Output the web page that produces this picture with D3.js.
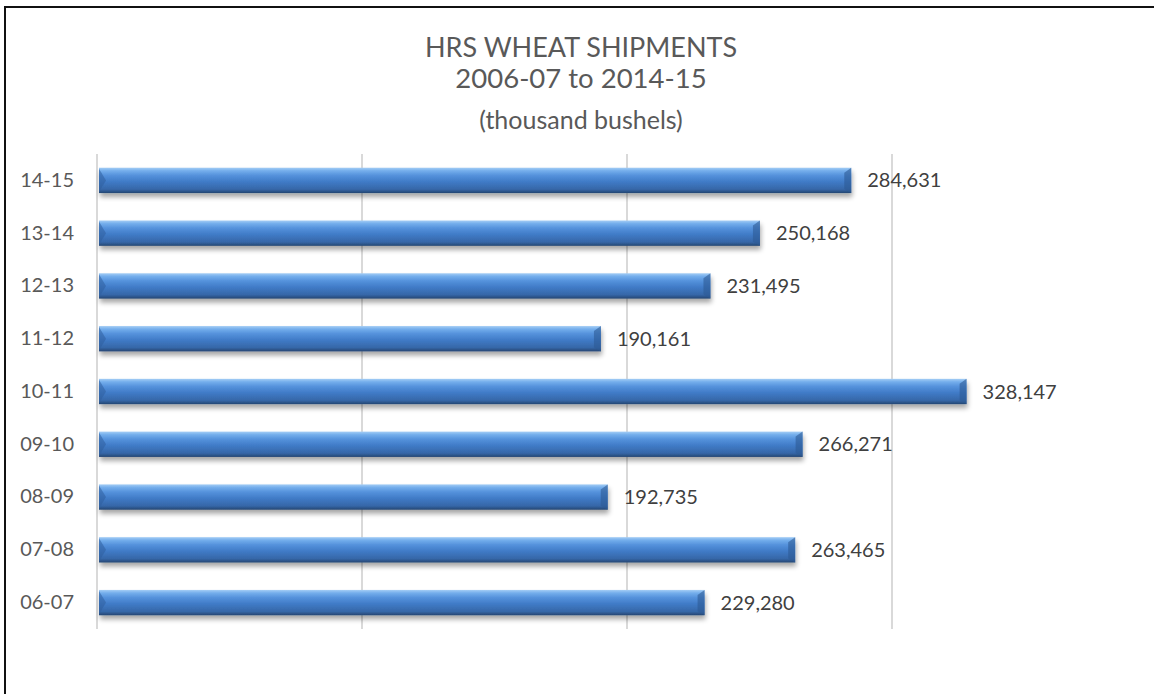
<!DOCTYPE html>
<html>
<head>
<meta charset="utf-8">
<script src="https://cdn.jsdelivr.net/npm/d3@7"></script>
<style>
	body { margin: 0; background: #fff; }
	svg { display: block; }
	text { font-family: Lato, "Open Sans", sans-serif; }
</style>
</head>
<body>
<script>
var seasons = ["14-15", "13-14", "12-13", "11-12", "10-11", "09-10", "08-09", "07-08", "06-07"];
var shipments = [284631, 250168, 231495, 190161, 328147, 266271, 192735, 263465, 229280];
var tickValues = [0, 100000, 200000, 300000];
var titleLines = ["HRS WHEAT SHIPMENTS", "2006-07 to 2014-15", "(thousand bushels)"];

var width = 1154;
var height = 694;

var data = seasons.map(function(s, i) { return {season: s, value: shipments[i]}; });

var svg = d3.select("body").append("svg")
	.attr("width", width)
	.attr("height", height);

var defs = svg.append("defs");

var grad = defs.append("linearGradient")
	.attr("id", "barGrad")
	.attr("x1", 0).attr("y1", 0).attr("x2", 0).attr("y2", 1);
[[0, "#a4cdf5"], [0.12, "#74aeec"], [0.3, "#5592dc"], [0.55, "#407bc7"], [0.85, "#3667a8"], [1, "#254672"]]
	.forEach(function(s) { grad.append("stop").attr("offset", s[0]).attr("stop-color", s[1]); });

var shadow = defs.append("filter").attr("id", "shadow")
	.attr("x", "-5%").attr("y", "-50%").attr("width", "110%").attr("height", "200%");
shadow.append("feGaussianBlur").attr("in", "SourceAlpha").attr("stdDeviation", 2.5).attr("result", "b");
shadow.append("feOffset").attr("in", "b").attr("dx", 1).attr("dy", 4).attr("result", "o");
shadow.append("feComponentTransfer").attr("in", "o").attr("result", "s")
	.append("feFuncA").attr("type", "linear").attr("slope", 0.35);
var merge = shadow.append("feMerge");
merge.append("feMergeNode").attr("in", "s");
merge.append("feMergeNode").attr("in", "SourceGraphic");

// frame (top and left edges visible)
svg.append("line").attr("x1", 5).attr("y1", 7).attr("x2", width).attr("y2", 7)
	.attr("stroke", "#111").attr("stroke-width", 2);
svg.append("line").attr("x1", 5).attr("y1", 6).attr("x2", 5).attr("y2", height)
	.attr("stroke", "#111").attr("stroke-width", 2);

// title
var title = svg.append("g").attr("fill", "#595959").attr("text-anchor", "middle");
title.append("text").attr("x", 581).attr("y", 57).attr("font-size", 27).text(titleLines[0]);
title.append("text").attr("x", 581).attr("y", 88).attr("font-size", 27.5).text(titleLines[1]);
title.append("text").attr("x", 581).attr("y", 129).attr("font-size", 25).text(titleLines[2]);

var x = d3.scaleLinear().domain([0, 350000]).range([97, 1024.5]);
var y = d3.scaleBand().domain(seasons).range([154, 629]).paddingInner(0.52).paddingOuter(0.26);

// gridlines
svg.append("g").selectAll("line")
	.data(tickValues)
	.enter().append("line")
		.attr("x1", function(d) { return x(d); })
		.attr("x2", function(d) { return x(d); })
		.attr("y1", 154).attr("y2", 629)
		.attr("stroke", "#d9d9d9")
		.attr("stroke-width", 2);

// category axis
var yAxis = svg.append("g")
	.attr("transform", "translate(" + x(0) + ",0)")
	.call(d3.axisLeft(y).tickSize(0).tickPadding(23));
yAxis.select(".domain").remove();
yAxis.selectAll("text")
	.attr("font-family", "Lato, sans-serif")
	.attr("font-size", 20)
	.attr("fill", "#595959");

var bars = svg.append("g").selectAll("g")
	.data(data)
	.enter().append("g")
	.attr("transform", function(d) { return "translate(0," + y(d.season) + ")"; });

var bh = y.bandwidth();
var x0 = x(0) + 2;

bars.append("rect")
	.attr("x", x0)
	.attr("y", 0)
	.attr("width", function(d) { return x(d.value) - x0; })
	.attr("height", bh)
	.attr("fill", "url(#barGrad)")
	.attr("filter", "url(#shadow)");

// left bevel
bars.append("path")
	.attr("d", "M" + x0 + ",1 L" + (x0 + 7) + "," + (bh / 2) + " L" + x0 + "," + (bh - 1) + "Z")
	.attr("fill", "#2f5f9e")
	.attr("opacity", 0.55);

// right bevel
bars.append("path")
	.attr("d", function(d) {
		var xe = x(d.value);
		return "M" + xe + ",0 L" + xe + "," + bh + " L" + (xe - 7) + "," + (bh - 4) + " L" + (xe - 7) + ",5 Z";
	})
	.attr("fill", "#2d5a94")
	.attr("opacity", 0.6);

bars.append("text")
	.attr("x", function(d) { return x(d.value) + 16; })
	.attr("y", bh / 2)
	.attr("dy", "0.35em")
	.attr("font-size", 20)
	.attr("fill", "#404040")
	.text(function(d) { return d3.format(",")(d.value); });
</script>
</body>
</html>
